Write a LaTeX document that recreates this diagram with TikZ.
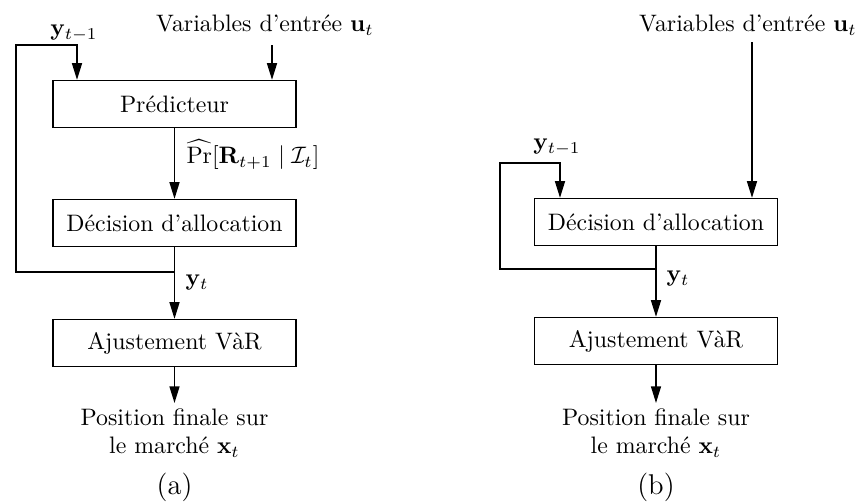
\documentclass[tikz,border=0pt]{standalone}
\usepackage{amsmath}
\usepackage{bm}
\usepackage{tikz}
\usetikzlibrary{arrows.meta}
\tikzstyle{bloc}=[rectangle,draw=black,line width=0.6pt,
                  minimum width=102pt,minimum height=19.7pt,inner sep=0pt]
\tikzstyle{texte}=[inner sep=2pt,align=center]
\tikzstyle{fleche}=[line width=0.6pt,-{Triangle[length=7pt,width=4.2pt]}]

\begin{document}
\begin{tikzpicture}[x=0.42pt,y=-0.42pt]
    \useasboundingbox (0,0) rectangle (861,503);
    % (a) predicteur + decision
    \node (predA) at (174.5,104) [bloc]{Prédicteur};
    \node (decA) at (174.5,223) [bloc]{Décision d'allocation};
    \node (ajustA) at (174.5,343) [bloc]{Ajustement VàR};
    \node (posA) at (174.5,403) [texte,anchor=north]{Position finale sur\\le marché $\mathbf{x}_t$};
    \node (entreeA) at (265,25) [texte]{Variables d'entrée $\mathbf{u}_t$};
    \node (yprecA) at (74,33) [texte]{$\mathbf{y}_{t-1}$};
    \node (ytA) at (197,283) [texte]{$\mathbf{y}_t$};
    \node (probA) at (253,155) [texte]{$\widehat{\mathrm{Pr}}[\mathbf{R}_{t+1}\mid\mathcal{I}_t]$};
    \node (titreA) at (174.5,487) [texte]{\large (a)};
    \coordinate (eA) at (272,45);
    \coordinate (bA) at (174.5,272);
    \coordinate (gA) at (16,272);
    \coordinate (hA) at (16,45);
    \coordinate (kA) at (77,45);
    \draw[fleche] (eA) -- (eA |- predA.north);
    \draw[fleche] (predA.south) -- (decA.north);
    \draw[fleche] (decA.south) -- (ajustA.north);
    \draw[fleche] (ajustA.south) -- (posA.north);
    \draw[fleche] (bA) -- (gA) -- (hA) -- (kA) -- (kA |- predA.north);
    % (b) decision seule
    \node (decB) at (656,222) [bloc]{Décision d'allocation};
    \node (ajustB) at (656,341) [bloc]{Ajustement VàR};
    \node (posB) at (656,403) [texte,anchor=north]{Position finale sur\\le marché $\mathbf{x}_t$};
    \node (entreeB) at (748,25) [texte]{Variables d'entrée $\mathbf{u}_t$};
    \node (yprecB) at (557,147) [texte]{$\mathbf{y}_{t-1}$};
    \node (ytB) at (678,279) [texte]{$\mathbf{y}_t$};
    \node (titreB) at (656,487) [texte]{\large (b)};
    \coordinate (eB) at (752,42);
    \coordinate (bB) at (656,269);
    \coordinate (gB) at (500,269);
    \coordinate (hB) at (500,163);
    \coordinate (kB) at (560,163);
    \draw[fleche] (eB) -- (eB |- decB.north);
    \draw[fleche] (decB.south) -- (ajustB.north);
    \draw[fleche] (ajustB.south) -- (posB.north);
    \draw[fleche] (bB) -- (gB) -- (hB) -- (kB) -- (kB |- decB.north);
\end{tikzpicture}
\end{document}
